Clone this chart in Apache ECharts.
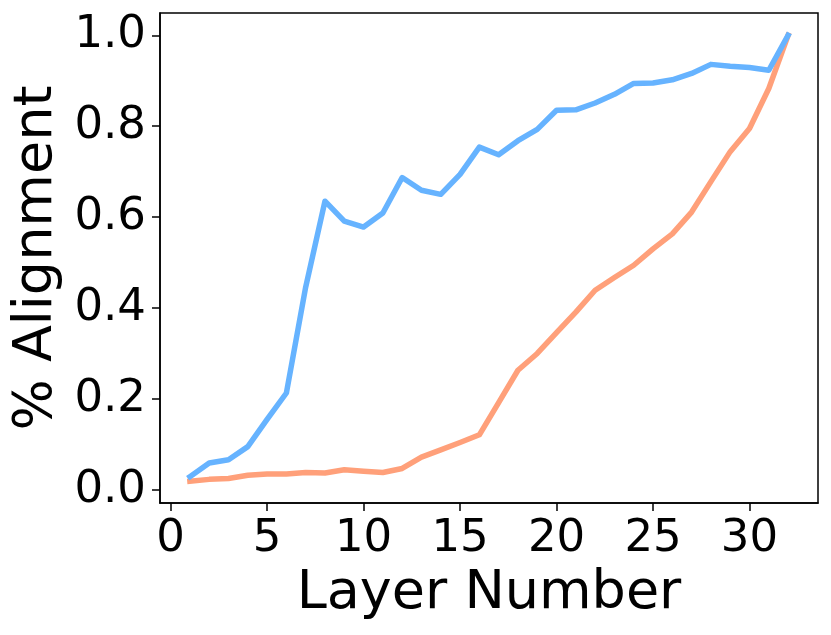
<!DOCTYPE html>
<html>
<head>
<meta charset="utf-8">
<script src="https://cdn.jsdelivr.net/npm/echarts@6/dist/echarts.min.js"></script>
<style>
html,body{margin:0;padding:0;background:#fff;}
#chart{width:831px;height:635px;}
</style>
</head>
<body>
<div id="chart"></div>
<script>
const layers = [1,2,3,4,5,6,7,8,9,10,11,12,13,14,15,16,17,18,19,20,21,22,23,24,25,26,27,28,29,30,31,32];
const blueSeries = [0.029,0.059,0.066,0.095,0.155,0.213,0.446,0.635,0.591,0.578,0.609,0.687,0.659,0.650,0.694,0.754,0.737,0.768,0.793,0.835,0.836,0.851,0.870,0.894,0.895,0.902,0.916,0.936,0.932,0.929,0.923,1.0];
const orangeSeries = [0.019,0.023,0.025,0.032,0.035,0.035,0.038,0.037,0.044,0.041,0.038,0.047,0.072,0.088,0.104,0.121,0.192,0.263,0.300,0.346,0.391,0.439,0.467,0.494,0.530,0.563,0.611,0.678,0.744,0.795,0.883,1.0];
const xTicks = [0,5,10,15,20,25,30];
const yTicks = [0.0,0.2,0.4,0.6,0.8,1.0];

const FONT = 'DejaVu Sans';
const chart = echarts.init(document.getElementById('chart'), null, {renderer:'canvas'});
chart.setOption({
  animation:false,
  backgroundColor:'#ffffff',
  grid:{left:160, top:13, right:13, bottom:132, show:true, borderColor:'#000', borderWidth:1.5, backgroundColor:'transparent'},
  xAxis:{
    type:'value', min:-0.55, max:33.55,
    name:'Layer Number', nameLocation:'middle', nameGap:62,
    nameTextStyle:{fontFamily:FONT, fontSize:54, color:'#000'},
    axisLine:{show:true, onZero:false, lineStyle:{color:'#000', width:1.5}},
    axisTick:{show:true, inside:false, length:8, customValues:xTicks, lineStyle:{color:'#000', width:1.5}},
    axisLabel:{show:true, customValues:xTicks, margin:14, fontFamily:FONT, fontSize:45, color:'#000'},
    splitLine:{show:false}
  },
  yAxis:{
    type:'value', min:-0.029, max:1.049,
    name:'% Alignment', nameLocation:'middle', nameGap:78, nameRotate:90,
    nameTextStyle:{fontFamily:FONT, fontSize:54, color:'#000'},
    axisLine:{show:true, onZero:false, lineStyle:{color:'#000', width:1.5}},
    axisTick:{show:true, inside:false, length:8, customValues:yTicks, lineStyle:{color:'#000', width:1.5}},
    axisLabel:{show:true, customValues:yTicks, margin:14, fontFamily:FONT, fontSize:45, color:'#000',
      formatter:function(v){return v.toFixed(1);}},
    splitLine:{show:false}
  },
  series:[
    {type:'line', data:layers.map((x,i)=>[x,orangeSeries[i]]), showSymbol:false, symbol:'none',
     lineStyle:{color:'#ffa07a', width:5.5, cap:'square', join:'round'}, z:2},
    {type:'line', data:layers.map((x,i)=>[x,blueSeries[i]]), showSymbol:false, symbol:'none',
     lineStyle:{color:'#66b3ff', width:5.5, cap:'square', join:'round'}, z:3}
  ]
});
</script>
</body>
</html>
